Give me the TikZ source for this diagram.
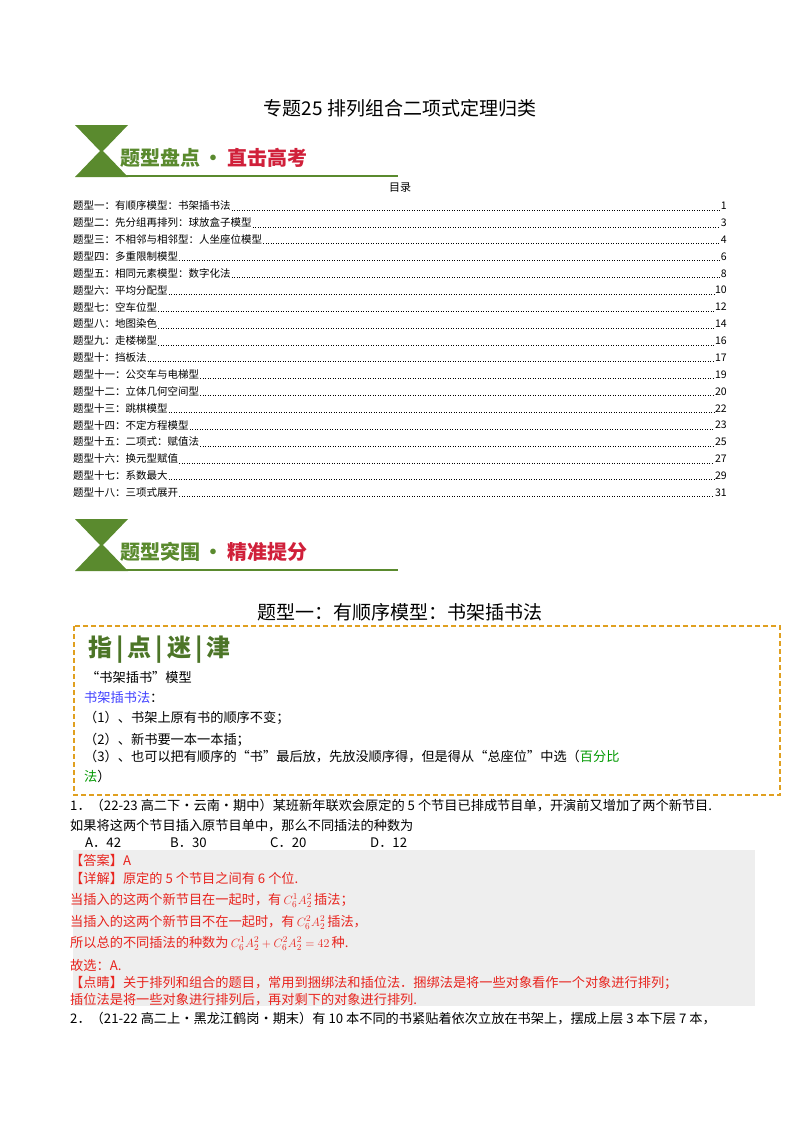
\documentclass[tikz,border=0pt]{standalone}
\usepackage{fontspec}
\setmainfont{Noto Sans CJK SC}
\definecolor{bgreen}{HTML}{5A8A2E}
\definecolor{bred}{HTML}{D0203A}
\definecolor{dorange}{HTML}{E0A020}
\definecolor{ansred}{HTML}{E8251F}
\begin{document}
\begin{tikzpicture}[x=1pt,y=-1pt,
  toc/.style={anchor=west,font=\fontsize{10.5}{12}\selectfont,inner sep=0},
  body/.style={anchor=west,font=\fontsize{13.2}{15}\selectfont,inner sep=0},
  ans/.style={body,text=ansred},
  ban/.style={anchor=west,font=\fontsize{20}{22}\selectfont\bfseries,inner sep=0}]
\useasboundingbox[fill=white] (0,0) rectangle (800,1132);
\node (title) at (400,108) {\fontsize{19}{22}\selectfont 专题25\ 排列组合二项式定理归类};
% banner 1
\fill[bgreen] (75,125) -- (128,125) -- (103,151) -- (128,177) -- (75,177) -- (100,151) -- cycle;
\draw[bgreen,line width=1.2pt] (120,176) -- (398,176);
\node[ban,text=bgreen] (b1a) at (120,158) {题型盘点\,·};
\node[ban,text=bred,anchor=west] (b1b) at (b1a.east) {\,直击高考};
\node (mulu) at (400,188) {\fontsize{11}{12}\selectfont 目录};
% toc
\foreach \t/\p [count=\i] in {题型一：有顺序模型：书架插书法/1,题型二：先分组再排列：球放盒子模型/3,题型三：不相邻与相邻型：人坐座位模型/4,题型四：多重限制模型/6,题型五：相同元素模型：数字化法/8,题型六：平均分配型/10,题型七：空车位型/12,题型八：地图染色/14,题型九：走楼梯型/16,题型十：挡板法/17,题型十一：公交车与电梯型/19,题型十二：立体几何空间型/20,题型十三：跳棋模型/22,题型十四：不定方程模型/23,题型十五：二项式：赋值法/25,题型十六：换元型赋值/27,题型十七：系数最大/29,题型十八：三项式展开/31}{
  \node[toc] (t\i) at (73,{206+(\i-1)*16.85}) {\t};
  \node[toc,anchor=east] (p\i) at (727,{206+(\i-1)*16.85}) {\p};
  \draw[dotted,line width=0.5pt] ([xshift=1pt,yshift=-4pt]t\i.east) -- ([xshift=-1pt,yshift=-4pt]p\i.west);
}
% banner 2
\fill[bgreen] (75,519) -- (128,519) -- (103,545) -- (128,571) -- (75,571) -- (100,545) -- cycle;
\draw[bgreen,line width=1.2pt] (120,570) -- (398,570);
\node[ban,text=bgreen] (b2a) at (120,552) {题型突围\,·};
\node[ban,text=bred,anchor=west] (b2b) at (b2a.east) {\,精准提分};
\node (h1) at (400,612) {\fontsize{19}{22}\selectfont 题型一：有顺序模型：书架插书法};
% tip box
\draw[dorange,line width=1.3pt,dash pattern=on 5pt off 3pt] (74,626) rectangle (780,795);
\node[anchor=west,inner sep=0,text=bgreen!85!black] (zd) at (88,650) {\fontsize{24}{26}\selectfont\bfseries 指\,|\,点\,|\,迷\,|\,津};
\node[body] (m1) at (86,677) {“书架插书”模型};
\node[body,text=blue!75] (m2) at (84,697) {书架插书法\textcolor{black}{：}};
\node[body] (m3) at (84,718) {（1）、书架上原有书的顺序不变；};
\node[body] (m4) at (84,740) {（2）、新书要一本一本插；};
\node[body] (m5) at (84,757) {（3）、也可以把有顺序的“书”最后放，先放没顺序得，但是得从“总座位”中选（\textcolor{green!60!black}{百分比}};
\node[body] (m6) at (84,776) {\textcolor{green!60!black}{法}）};
% question
\node[body] (q1) at (70,806) {1．（22-23 高二下·云南·期中）某班新年联欢会原定的 5 个节目已排成节目单，开演前又增加了两个新节目.};
\node[body] (q1b) at (70,826) {如果将这两个节目插入原节目单中，那么不同插法的种数为};
\foreach \l/\x in {A．42/85,B．30/170,C．20/270,D．12/370}{\node[body] at (\x,843) {\l};}
\fill[gray!13] (73,850) rectangle (755,1006);
\node[ans] (a1) at (70,860) {【答案】A};
\node[ans] (a2) at (70,878) {【详解】原定的 5 个节目之间有 6 个位.};
\node[ans] (a3) at (70,900) {当插入的这两个新节目在一起时，有\,$C_6^1A_2^2$\,插法；};
\node[ans] (a4) at (70,922) {当插入的这两个新节目不在一起时，有\,$C_6^2A_2^2$\,插法，};
\node[ans] (a5) at (70,943) {所以总的不同插法的种数为\,$C_6^1A_2^2+C_6^2A_2^2=42$\,种.};
\node[ans] (a6) at (70,965) {故选：A.};
\node[ans] (a7) at (70,983) {【点睛】关于排列和组合的题目，常用到捆绑法和插位法．捆绑法是将一些对象看作一个对象进行排列；};
\node[ans] (a8) at (70,1000) {插位法是将一些对象进行排列后，再对剩下的对象进行排列.};
\node[body] (q2) at (70,1019) {2．（21-22 高二上·黑龙江鹤岗·期末）有 10 本不同的书紧贴着依次立放在书架上，摆成上层 3 本下层 7 本，};
\end{tikzpicture}
\end{document}
